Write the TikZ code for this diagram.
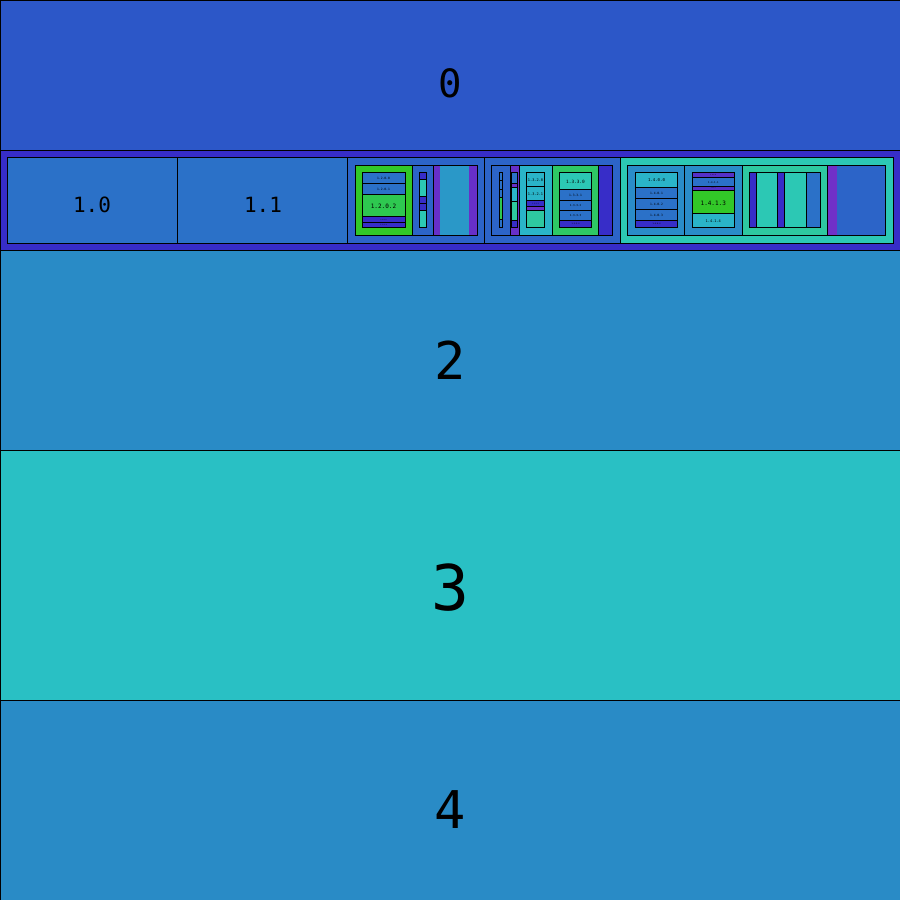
\documentclass[tikz,border=0pt]{standalone}
\usepackage{fontspec}
\setmonofont{DejaVu Sans Mono}
\usepackage{tikz}
\definecolor{tmblue}{HTML}{2C57C8}
\definecolor{tmindigo}{HTML}{372DC8}
\definecolor{tmmid}{HTML}{2B71C8}
\definecolor{tmblueb}{HTML}{2C64C8}
\definecolor{tmsky}{HTML}{298BC6}
\definecolor{tmcyan}{HTML}{29C0C4}
\definecolor{tmteal}{HTML}{2CC8B4}
\definecolor{tmaqua}{HTML}{2AB4C8}
\definecolor{tmsea}{HTML}{2EC8A0}
\definecolor{tmgreen}{HTML}{32C828}
\definecolor{tmlime}{HTML}{2EC850}
\definecolor{tmjade}{HTML}{2EC864}
\definecolor{tmpurple}{HTML}{672FC8}
\definecolor{tmviolet}{HTML}{7030C8}
\definecolor{tmplum}{HTML}{5530C8}
\definecolor{tmlight}{HTML}{2A98C8}
\definecolor{tmocean}{HTML}{2A8CC8}
\newcommand{\tmcell}[5]{\draw[cell,fill=#1] (#2,#3) rectangle (#4,#5);}
\newcommand{\tmleaf}[5]{\fill[#1] (#2,#3) rectangle (#4,#5);}
\newcommand{\tmframe}[4]{\draw[cell] (#1,#2) rectangle (#3,#4);}
\newcommand{\tmlab}[5]{\node[lab,font=\ttfamily\fontsize{#4}{#4}\selectfont] (#1) at (#2,#3) {#5};}
\begin{document}
\begin{tikzpicture}[x=1pt,y=-1pt,
 cell/.style={draw=black,line width=0.8pt},
 lab/.style={inner sep=0pt,text=black}]
\useasboundingbox (0,0) rectangle (900,900);
% top level
\tmcell{tmblue}{0}{0}{900}{150}
\tmcell{tmindigo}{0}{150}{900}{250}
\tmcell{tmsky}{0}{250}{900}{450}
\tmcell{tmcyan}{0}{450}{900}{700}
\tmcell{tmsky}{0}{700}{900}{900}
\tmlab{l0}{450}{83}{39}{0}
\tmlab{l2}{450}{360}{52}{2}
\tmlab{l3}{450}{588}{63}{3}
\tmlab{l4}{450}{810}{52}{4}
% row 1
\tmcell{tmmid}{7}{157}{177}{243}
\tmcell{tmmid}{177}{157}{347}{243}
\tmcell{tmblueb}{347}{157}{484}{243}
\tmcell{tmblueb}{484}{157}{620}{243}
\tmcell{tmteal}{620}{157}{893}{243}
\tmframe{7}{157}{893}{243}
\tmlab{l10}{92}{205}{21}{1.0}
\tmlab{l11}{263}{205}{21}{1.1}
% 1.2
\tmleaf{tmpurple}{433}{165}{440}{235}
\tmleaf{tmlight}{440}{165}{469}{235}
\tmleaf{tmpurple}{469}{165}{477}{235}
\tmcell{tmgreen}{355}{165}{412}{235}
\tmcell{tmblueb}{412}{165}{433}{235}
\tmframe{355}{165}{477}{235}
\tmcell{tmmid}{362}{172.3}{405}{183.3}
\tmcell{tmmid}{362}{183.3}{405}{194.3}
\tmcell{tmlime}{362}{194.3}{405}{216.7}
\tmcell{tmindigo}{362}{216.7}{405}{222.3}
\tmcell{tmindigo}{362}{222.3}{405}{227.7}
\tmlab{l1200}{383.5}{178}{3}{1.2.0.0}
\tmlab{l1201}{383.5}{189}{3}{1.2.0.1}
\tmlab{l1202}{383.5}{206.6}{6}{1.2.0.2}
\tmlab{l1203}{383.5}{219.7}{1.4}{1.2.0.3}
\tmlab{l1204}{383.5}{225.2}{1.5}{1.2.0.4}
\tmcell{tmindigo}{419.3}{172.3}{426.3}{179.3}
\tmcell{tmteal}{419.3}{179.3}{426.3}{196.3}
\tmcell{tmindigo}{419.3}{196.3}{426.3}{203.3}
\tmcell{tmindigo}{419.3}{203.3}{426.3}{210.3}
\tmcell{tmteal}{419.3}{210.3}{426.3}{227.7}
% 1.3
\tmleaf{tmindigo}{598}{165}{612}{235}
\tmcell{tmblueb}{491}{165}{510}{235}
\tmcell{tmpurple}{510}{165}{519}{235}
\tmcell{tmaqua}{519}{165}{552}{235}
\tmcell{tmjade}{552}{165}{598}{235}
\tmframe{491}{165}{612}{235}
\tmcell{tmmid}{499.3}{172.3}{502.7}{180.5}
\tmcell{tmmid}{499.3}{180.5}{502.7}{189.3}
\tmcell{tmmid}{499.3}{189.3}{502.7}{197.3}
\tmcell{tmlime}{499.3}{197.3}{502.7}{219.3}
\tmcell{tmmid}{499.3}{219.3}{502.7}{227.5}
\tmcell{tmmid}{511.3}{172.3}{517.7}{183.3}
\tmcell{tmpurple}{511.3}{183.3}{517.7}{187.3}
\tmcell{tmaqua}{511.3}{187.3}{517.7}{201.3}
\tmcell{tmsea}{511.3}{201.3}{517.7}{220.3}
\tmcell{tmindigo}{511.3}{220.3}{517.7}{227.5}
\tmcell{tmaqua}{526.3}{172.3}{544.7}{186.3}
\tmcell{tmaqua}{526.3}{186.3}{544.7}{200.3}
\tmcell{tmindigo}{526.3}{200.3}{544.7}{206.3}
\tmcell{tmpurple}{526.3}{206.3}{544.7}{210.3}
\tmcell{tmsea}{526.3}{210.3}{544.7}{227.5}
\tmlab{l1320}{535.5}{179.7}{3.6}{1.3.2.0}
\tmlab{l1321}{535.5}{193.7}{3.6}{1.3.2.1}
\tmlab{l1322}{535.5}{203.6}{1.6}{1.3.2.2}
\tmcell{tmteal}{559.3}{172.3}{591.7}{189.3}
\tmcell{tmmid}{559.3}{189.3}{591.7}{200.3}
\tmcell{tmmid}{559.3}{200.3}{591.7}{210.3}
\tmcell{tmmid}{559.3}{210.3}{591.7}{220.3}
\tmcell{tmindigo}{559.3}{220.3}{591.7}{227.5}
\tmlab{l1330}{575.5}{181.7}{4.4}{1.3.3.0}
\tmlab{l1331}{575.5}{195.3}{3}{1.3.3.1}
\tmlab{l1332}{575.5}{205.8}{2.7}{1.3.3.2}
\tmlab{l1333}{575.5}{215.8}{2.7}{1.3.3.3}
\tmlab{l1334}{575.5}{224.1}{1.9}{1.3.3.4}
% 1.4
\tmleaf{tmviolet}{827}{165}{837}{235}
\tmleaf{tmblueb}{837}{165}{885}{235}
\tmcell{tmocean}{627}{165}{684}{235}
\tmcell{tmocean}{684}{165}{742}{235}
\tmcell{tmsea}{742}{165}{827}{235}
\tmframe{627}{165}{885}{235}
\tmcell{tmaqua}{635.3}{172.3}{677.7}{187.3}
\tmcell{tmmid}{635.3}{187.3}{677.7}{198.3}
\tmcell{tmmid}{635.3}{198.3}{677.7}{209.3}
\tmcell{tmmid}{635.3}{209.3}{677.7}{220.3}
\tmcell{tmindigo}{635.3}{220.3}{677.7}{227.5}
\tmlab{l1400}{656.5}{180.5}{4}{1.4.0.0}
\tmlab{l1401}{656.5}{193.3}{3}{1.4.0.1}
\tmlab{l1402}{656.5}{204.3}{3}{1.4.0.2}
\tmlab{l1403}{656.5}{215.3}{3}{1.4.0.3}
\tmlab{l1404}{656.5}{224.1}{1.9}{1.4.0.4}
\tmcell{tmplum}{692.3}{172.3}{734.3}{177.3}
\tmcell{tmmid}{692.3}{177.3}{734.3}{186.3}
\tmcell{tmplum}{692.3}{186.3}{734.3}{190.3}
\tmcell{tmgreen}{692.3}{190.3}{734.3}{213.3}
\tmcell{tmaqua}{692.3}{213.3}{734.3}{227.5}
\tmlab{l1410}{713.3}{175}{1.4}{1.4.1.0}
\tmlab{l1411}{713.3}{182.3}{2.5}{1.4.1.1}
\tmlab{l1412}{713.3}{188.5}{1.1}{1.4.1.2}
\tmlab{l1413}{713.3}{203}{6}{1.4.1.3}
\tmlab{l1414}{713.3}{221}{3.6}{1.4.1.4}
\tmcell{tmindigo}{749.3}{172.3}{756.3}{227.5}
\tmcell{tmteal}{756.3}{172.3}{777.3}{227.5}
\tmcell{tmindigo}{777.3}{172.3}{784.3}{227.5}
\tmcell{tmteal}{784.3}{172.3}{806.3}{227.5}
\tmcell{tmmid}{806.3}{172.3}{820.3}{227.5}
\end{tikzpicture}
\end{document}
